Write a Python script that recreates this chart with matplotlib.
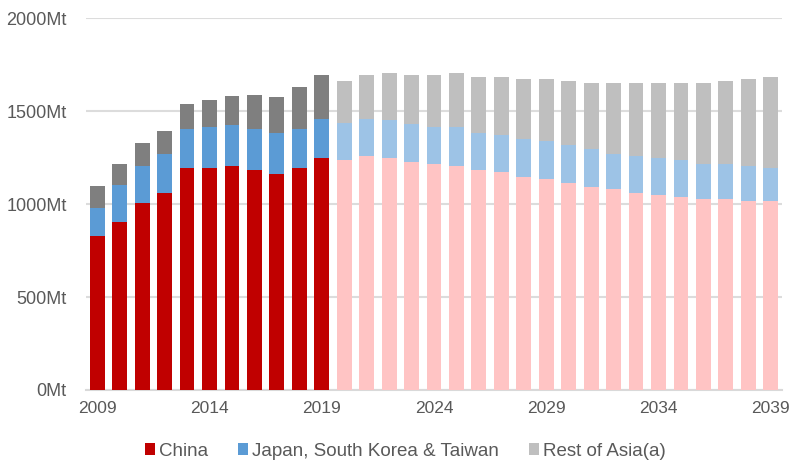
import matplotlib
matplotlib.use("Agg")
import matplotlib.pyplot as plt
from matplotlib.patches import Patch

years = list(range(2009, 2040))
china = [826, 903, 1004, 1059, 1194, 1194, 1204, 1181, 1160, 1194, 1247,
         1235, 1256, 1246, 1224, 1213, 1203, 1181, 1170, 1144, 1133,
         1111, 1090, 1079, 1058, 1047, 1036, 1025, 1025, 1014, 1014]
japan_top = [981, 1102, 1203, 1267, 1403, 1412, 1423, 1403, 1382, 1403, 1455,
             1437, 1459, 1450, 1428, 1416, 1416, 1384, 1373, 1348, 1337,
             1316, 1294, 1271, 1260, 1249, 1239, 1213, 1213, 1204, 1196]
total = [1095, 1213, 1326, 1391, 1536, 1558, 1579, 1585, 1574, 1628, 1692,
         1660, 1692, 1702, 1692, 1692, 1702, 1681, 1681, 1670, 1670,
         1660, 1649, 1649, 1649, 1649, 1649, 1649, 1660, 1670, 1681]
japan = [j - c for j, c in zip(japan_top, china)]
rest = [t - j for t, j in zip(total, japan_top)]
last_actual = 2019
series_names = ["China", "Japan, South Korea & Taiwan", "Rest of Asia(a)"]
yticks = [0, 500, 1000, 1500, 2000]
ytick_labels = ["0Mt", "500Mt", "1000Mt", "1500Mt", "2000Mt"]
xtick_years = [2009, 2014, 2019, 2024, 2029, 2034, 2039]

plt.rcParams["font.family"] = ["Liberation Sans", "DejaVu Sans"]

dark = ["#C00000", "#5B9BD5", "#7F7F7F"]
light = ["#FFC4C4", "#9DC3E6", "#BFBFBF"]

fig = plt.figure(figsize=(7.95, 4.61), dpi=100)
ax = fig.add_axes([86/795, 1 - 390/461, (782-86)/795, (390-18)/461])

for i, yr in enumerate(years):
    cols = dark if yr <= last_actual else light
    bottom = 0
    for v, c in zip([china[i], japan[i], rest[i]], cols):
        ax.bar(i, v, bottom=bottom, width=0.66, color=c, edgecolor="none", zorder=3)
        bottom += v

ax.set_xlim(-0.5, len(years) - 0.5)
ax.set_ylim(0, 2000)
ax.set_yticks(yticks)
ax.set_yticklabels(ytick_labels)
ax.set_xticks([years.index(y) for y in xtick_years])
ax.set_xticklabels([str(y) for y in xtick_years])
ax.grid(axis="y", color="#DCDCDC", linewidth=1.5, zorder=0)
for s in ["top", "right", "left"]:
    ax.spines[s].set_visible(False)
ax.spines["bottom"].set_color("#D9D9D9")
ax.spines["bottom"].set_linewidth(1.5)
ax.tick_params(axis="both", length=0, labelsize=13, colors="#595959")
ax.tick_params(axis="x", labelsize=12.5, pad=8)
ax.tick_params(axis="y", pad=14)

handles = [Patch(facecolor=c, edgecolor="none") for c in [dark[0], dark[1], light[2]]]
fig.legend(handles, series_names, loc="center", bbox_to_anchor=(0.51, 1 - 451/461),
           ncol=3, frameon=False, fontsize=13.5, handlelength=0.55, handleheight=0.55,
           handletextpad=0.2, columnspacing=1.6, labelcolor="#595959")

fig.savefig("out.png", dpi=100)
